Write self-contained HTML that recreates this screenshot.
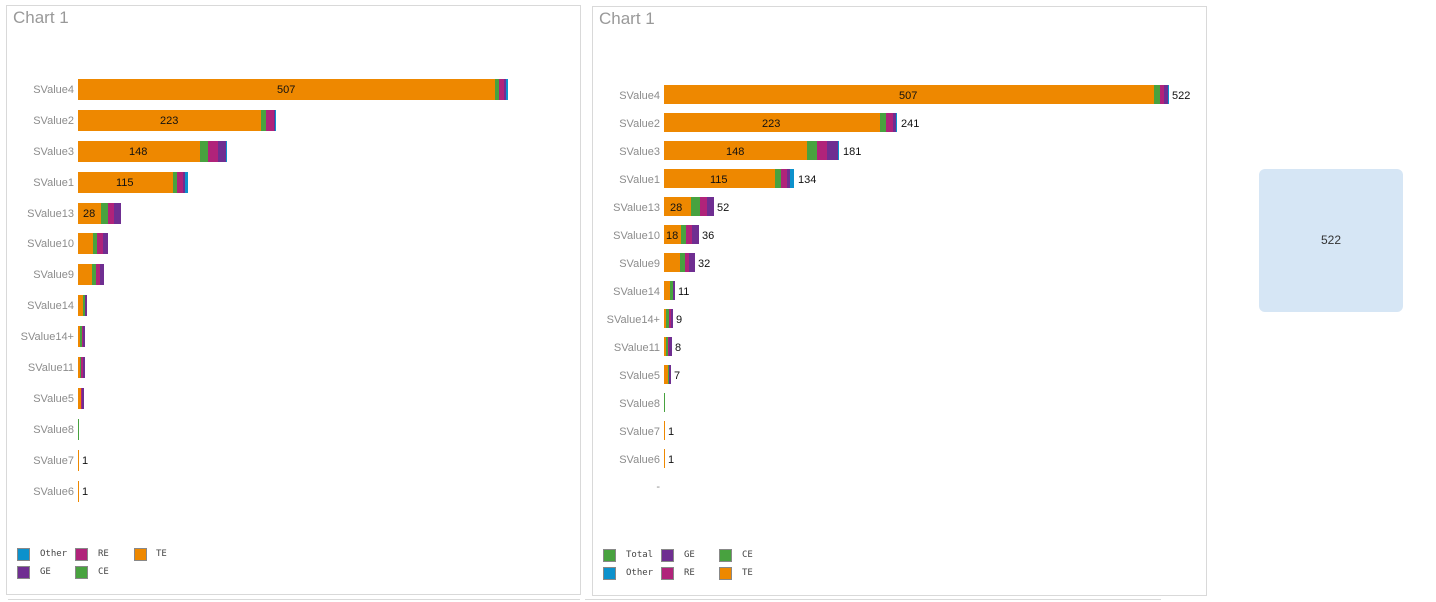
<!DOCTYPE html><html><head><meta charset="utf-8"><style>
body{margin:0;width:1436px;height:602px;background:#fff;position:relative;overflow:hidden;font-family:"Liberation Sans","DejaVu Sans",sans-serif}
.p{position:absolute;border:1px solid #d9d9d9;box-sizing:border-box}
.t{position:absolute;font-size:17px;color:#999}
.l{position:absolute;font-size:11px;color:#8c8c8c;text-align:right;width:80px}
.s{position:absolute}
.o{background:#ee8800}.g{background:#48a23f}.r{background:#b0237a}.v{background:#6f2e91}.c{background:#0c91cc}
.n{position:absolute;font-size:11px;color:#111}
.l,.n{transform:translateY(2px)}
.k{position:absolute;width:13px;height:13px;border:1px solid #888;box-sizing:border-box}
.kt{position:absolute;font-size:9px;color:#444;font-family:"DejaVu Sans Mono","Liberation Mono",monospace}
</style></head><body>
<div class="p" style="left:6px;top:5px;width:575px;height:590px"></div>
<div class="p" style="left:592px;top:6px;width:615px;height:590px"></div>
<div style="position:absolute;left:8px;top:599px;width:572px;height:1px;background:#d9d9d9"></div>
<div style="position:absolute;left:585px;top:599px;width:576px;height:1px;background:#d9d9d9"></div>
<div class="t" style="left:13px;top:8px">Chart 1</div>
<div class="t" style="left:599px;top:9px">Chart 1</div>
<div style="position:absolute;left:1259px;top:169px;width:144px;height:143px;background:#d6e6f5;border-radius:6px;font-size:12px;color:#333;text-align:center;line-height:143px">522</div>

<!-- LEFT -->
<div class="l" style="left:-6px;top:82px">SValue4</div>
<div class="s o" style="left:78px;top:79px;width:417px;height:21px"></div><div class="s g" style="left:495px;top:79px;width:4px;height:21px"></div><div class="s r" style="left:499px;top:79px;width:5px;height:21px"></div><div class="s v" style="left:504px;top:79px;width:2px;height:21px"></div><div class="s c" style="left:506px;top:79px;width:2px;height:21px"></div>
<div class="n" style="left:277px;top:82px">507</div>
<div class="l" style="left:-6px;top:113px">SValue2</div>
<div class="s o" style="left:78px;top:110px;width:183px;height:21px"></div><div class="s g" style="left:261px;top:110px;width:5px;height:21px"></div><div class="s r" style="left:266px;top:110px;width:8px;height:21px"></div><div class="s v" style="left:274px;top:110px;width:1px;height:21px"></div><div class="s c" style="left:275px;top:110px;width:1px;height:21px"></div>
<div class="n" style="left:160px;top:113px">223</div>
<div class="l" style="left:-6px;top:144px">SValue3</div>
<div class="s o" style="left:78px;top:141px;width:122px;height:21px"></div><div class="s g" style="left:200px;top:141px;width:8px;height:21px"></div><div class="s r" style="left:208px;top:141px;width:10px;height:21px"></div><div class="s v" style="left:218px;top:141px;width:8px;height:21px"></div><div class="s c" style="left:226px;top:141px;width:1px;height:21px"></div>
<div class="n" style="left:129px;top:144px">148</div>
<div class="l" style="left:-6px;top:175px">SValue1</div>
<div class="s o" style="left:78px;top:172px;width:95px;height:21px"></div><div class="s g" style="left:173px;top:172px;width:4px;height:21px"></div><div class="s r" style="left:177px;top:172px;width:6px;height:21px"></div><div class="s v" style="left:183px;top:172px;width:2px;height:21px"></div><div class="s c" style="left:185px;top:172px;width:3px;height:21px"></div>
<div class="n" style="left:116px;top:175px">115</div>
<div class="l" style="left:-6px;top:206px">SValue13</div>
<div class="s o" style="left:78px;top:203px;width:23px;height:21px"></div><div class="s g" style="left:101px;top:203px;width:7px;height:21px"></div><div class="s r" style="left:108px;top:203px;width:6px;height:21px"></div><div class="s v" style="left:114px;top:203px;width:7px;height:21px"></div>
<div class="n" style="left:83px;top:206px">28</div>
<div class="l" style="left:-6px;top:236px">SValue10</div>
<div class="s o" style="left:78px;top:233px;width:15px;height:21px"></div><div class="s g" style="left:93px;top:233px;width:4px;height:21px"></div><div class="s r" style="left:97px;top:233px;width:6px;height:21px"></div><div class="s v" style="left:103px;top:233px;width:5px;height:21px"></div>
<div class="l" style="left:-6px;top:267px">SValue9</div>
<div class="s o" style="left:78px;top:264px;width:14px;height:21px"></div><div class="s g" style="left:92px;top:264px;width:4px;height:21px"></div><div class="s r" style="left:96px;top:264px;width:4px;height:21px"></div><div class="s v" style="left:100px;top:264px;width:4px;height:21px"></div>
<div class="l" style="left:-6px;top:298px">SValue14</div>
<div class="s o" style="left:78px;top:295px;width:5px;height:21px"></div><div class="s g" style="left:83px;top:295px;width:2px;height:21px"></div><div class="s v" style="left:85px;top:295px;width:2px;height:21px"></div>
<div class="l" style="left:-6px;top:329px">SValue14+</div>
<div class="s o" style="left:78px;top:326px;width:2px;height:21px"></div><div class="s g" style="left:80px;top:326px;width:2px;height:21px"></div><div class="s r" style="left:82px;top:326px;width:1px;height:21px"></div><div class="s v" style="left:83px;top:326px;width:2px;height:21px"></div>
<div class="l" style="left:-6px;top:360px">SValue11</div>
<div class="s o" style="left:78px;top:357px;width:2px;height:21px"></div><div class="s g" style="left:80px;top:357px;width:1px;height:21px"></div><div class="s r" style="left:81px;top:357px;width:2px;height:21px"></div><div class="s v" style="left:83px;top:357px;width:2px;height:21px"></div>
<div class="l" style="left:-6px;top:391px">SValue5</div>
<div class="s o" style="left:78px;top:388px;width:3px;height:21px"></div><div class="s r" style="left:81px;top:388px;width:1px;height:21px"></div><div class="s v" style="left:82px;top:388px;width:2px;height:21px"></div>
<div class="l" style="left:-6px;top:422px">SValue8</div>
<div class="s g" style="left:78px;top:419px;width:1px;height:21px"></div>
<div class="l" style="left:-6px;top:453px">SValue7</div>
<div class="s o" style="left:78px;top:450px;width:1px;height:21px"></div><div class="n" style="left:82px;top:453px">1</div>
<div class="l" style="left:-6px;top:484px">SValue6</div>
<div class="s o" style="left:78px;top:481px;width:1px;height:21px"></div><div class="n" style="left:82px;top:484px">1</div>

<div class="k" style="left:17px;top:548px;background:#0c91cc"></div><div class="kt" style="left:40px;top:549px">Other</div>
<div class="k" style="left:75px;top:548px;background:#b0237a"></div><div class="kt" style="left:98px;top:549px">RE</div>
<div class="k" style="left:134px;top:548px;background:#ee8800"></div><div class="kt" style="left:156px;top:549px">TE</div>
<div class="k" style="left:17px;top:566px;background:#6f2e91"></div><div class="kt" style="left:40px;top:567px">GE</div>
<div class="k" style="left:75px;top:566px;background:#48a23f"></div><div class="kt" style="left:98px;top:567px">CE</div>

<!-- RIGHT -->
<div class="l" style="left:580px;top:88px">SValue4</div>
<div class="s o" style="left:664px;top:85px;width:490px;height:19px"></div><div class="s g" style="left:1154px;top:85px;width:6px;height:19px"></div><div class="s r" style="left:1160px;top:85px;width:4px;height:19px"></div><div class="s v" style="left:1164px;top:85px;width:4px;height:19px"></div><div class="s c" style="left:1168px;top:85px;width:1px;height:19px"></div>
<div class="n" style="left:899px;top:88px">507</div><div class="n" style="left:1172px;top:88px">522</div>
<div class="l" style="left:580px;top:116px">SValue2</div>
<div class="s o" style="left:664px;top:113px;width:216px;height:19px"></div><div class="s g" style="left:880px;top:113px;width:6px;height:19px"></div><div class="s r" style="left:886px;top:113px;width:7px;height:19px"></div><div class="s v" style="left:893px;top:113px;width:3px;height:19px"></div><div class="s c" style="left:896px;top:113px;width:1px;height:19px"></div>
<div class="n" style="left:762px;top:116px">223</div><div class="n" style="left:901px;top:116px">241</div>
<div class="l" style="left:580px;top:144px">SValue3</div>
<div class="s o" style="left:664px;top:141px;width:143px;height:19px"></div><div class="s g" style="left:807px;top:141px;width:10px;height:19px"></div><div class="s r" style="left:817px;top:141px;width:10px;height:19px"></div><div class="s v" style="left:827px;top:141px;width:11px;height:19px"></div><div class="s c" style="left:838px;top:141px;width:1px;height:19px"></div>
<div class="n" style="left:726px;top:144px">148</div><div class="n" style="left:843px;top:144px">181</div>
<div class="l" style="left:580px;top:172px">SValue1</div>
<div class="s o" style="left:664px;top:169px;width:111px;height:19px"></div><div class="s g" style="left:775px;top:169px;width:6px;height:19px"></div><div class="s r" style="left:781px;top:169px;width:6px;height:19px"></div><div class="s v" style="left:787px;top:169px;width:3px;height:19px"></div><div class="s c" style="left:790px;top:169px;width:4px;height:19px"></div>
<div class="n" style="left:710px;top:172px">115</div><div class="n" style="left:798px;top:172px">134</div>
<div class="l" style="left:580px;top:200px">SValue13</div>
<div class="s o" style="left:664px;top:197px;width:27px;height:19px"></div><div class="s g" style="left:691px;top:197px;width:9px;height:19px"></div><div class="s r" style="left:700px;top:197px;width:7px;height:19px"></div><div class="s v" style="left:707px;top:197px;width:7px;height:19px"></div>
<div class="n" style="left:670px;top:200px">28</div><div class="n" style="left:717px;top:200px">52</div>
<div class="l" style="left:580px;top:228px">SValue10</div>
<div class="s o" style="left:664px;top:225px;width:17px;height:19px"></div><div class="s g" style="left:681px;top:225px;width:5px;height:19px"></div><div class="s r" style="left:686px;top:225px;width:6px;height:19px"></div><div class="s v" style="left:692px;top:225px;width:7px;height:19px"></div>
<div class="n" style="left:666px;top:228px">18</div><div class="n" style="left:702px;top:228px">36</div>
<div class="l" style="left:580px;top:256px">SValue9</div>
<div class="s o" style="left:664px;top:253px;width:16px;height:19px"></div><div class="s g" style="left:680px;top:253px;width:5px;height:19px"></div><div class="s r" style="left:685px;top:253px;width:4px;height:19px"></div><div class="s v" style="left:689px;top:253px;width:6px;height:19px"></div>
<div class="n" style="left:698px;top:256px">32</div>
<div class="l" style="left:580px;top:284px">SValue14</div>
<div class="s o" style="left:664px;top:281px;width:6px;height:19px"></div><div class="s g" style="left:670px;top:281px;width:3px;height:19px"></div><div class="s v" style="left:673px;top:281px;width:2px;height:19px"></div>
<div class="n" style="left:678px;top:284px">11</div>
<div class="l" style="left:580px;top:312px">SValue14+</div>
<div class="s o" style="left:664px;top:309px;width:2px;height:19px"></div><div class="s g" style="left:666px;top:309px;width:3px;height:19px"></div><div class="s r" style="left:669px;top:309px;width:2px;height:19px"></div><div class="s v" style="left:671px;top:309px;width:2px;height:19px"></div>
<div class="n" style="left:676px;top:312px">9</div>
<div class="l" style="left:580px;top:340px">SValue11</div>
<div class="s o" style="left:664px;top:337px;width:2px;height:19px"></div><div class="s g" style="left:666px;top:337px;width:2px;height:19px"></div><div class="s r" style="left:668px;top:337px;width:1px;height:19px"></div><div class="s v" style="left:669px;top:337px;width:3px;height:19px"></div>
<div class="n" style="left:675px;top:340px">8</div>
<div class="l" style="left:580px;top:368px">SValue5</div>
<div class="s o" style="left:664px;top:365px;width:4px;height:19px"></div><div class="s g" style="left:668px;top:365px;width:1px;height:19px"></div><div class="s v" style="left:669px;top:365px;width:2px;height:19px"></div>
<div class="n" style="left:674px;top:368px">7</div>
<div class="l" style="left:580px;top:396px">SValue8</div>
<div class="s g" style="left:664px;top:393px;width:1px;height:19px"></div>
<div class="l" style="left:580px;top:424px">SValue7</div>
<div class="s o" style="left:664px;top:421px;width:1px;height:19px"></div><div class="n" style="left:668px;top:424px">1</div>
<div class="l" style="left:580px;top:452px">SValue6</div>
<div class="s o" style="left:664px;top:449px;width:1px;height:19px"></div><div class="n" style="left:668px;top:452px">1</div>
<div class="l" style="left:580px;top:479px">-</div>

<div class="k" style="left:603px;top:549px;background:#48a23f"></div><div class="kt" style="left:626px;top:550px">Total</div>
<div class="k" style="left:661px;top:549px;background:#6f2e91"></div><div class="kt" style="left:684px;top:550px">GE</div>
<div class="k" style="left:719px;top:549px;background:#48a23f"></div><div class="kt" style="left:742px;top:550px">CE</div>
<div class="k" style="left:603px;top:567px;background:#0c91cc"></div><div class="kt" style="left:626px;top:568px">Other</div>
<div class="k" style="left:661px;top:567px;background:#b0237a"></div><div class="kt" style="left:684px;top:568px">RE</div>
<div class="k" style="left:719px;top:567px;background:#ee8800"></div><div class="kt" style="left:742px;top:568px">TE</div>
</body></html>
